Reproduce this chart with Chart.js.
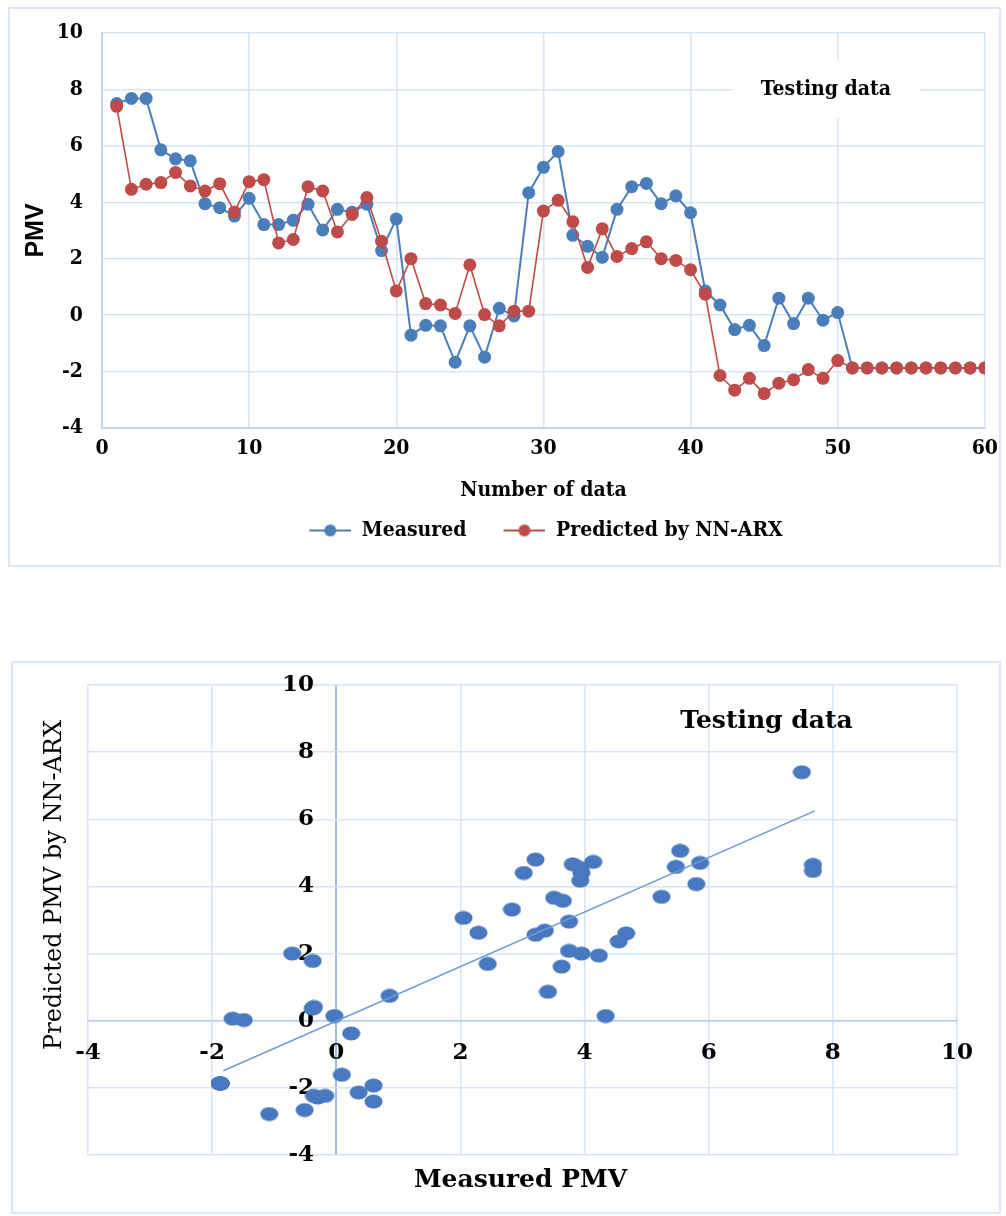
<!DOCTYPE html>
<html>
<head>
<meta charset="utf-8">
<script src="https://cdn.jsdelivr.net/npm/chart.js@4.4.1/dist/chart.umd.min.js"></script>
<style>
  body { margin: 0; background: #fff; width: 1006px; height: 1216px; position: relative; overflow: hidden; }
  .frame { position: absolute; border: 2px solid #dde6f3; box-sizing: border-box; }
  #f1 { left: 8px; top: 7px; width: 993px; height: 560px; }
  #f2 { left: 11px; top: 661px; width: 990px; height: 553px; }
  .wrap { position: absolute; left: 0; width: 1006px; }
  #w1 { top: 0; height: 570px; }
  #w2 { top: 650px; height: 566px; }
</style>
</head>
<body>
<div class="frame" id="f1"></div>
<div class="frame" id="f2"></div>
<div class="wrap" id="w1"><canvas id="lineChart" width="1006" height="570"></canvas></div>
<div class="wrap" id="w2"><canvas id="scatterChart" width="1006" height="566"></canvas></div>
<script>
// sample number 1..60
const samples = Array.from({ length: 60 }, (_, i) => i + 1);

const measured = [
  7.5, 7.68, 7.68, 5.86, 5.54, 5.47, 3.95, 3.81, 3.51, 4.14,
  3.21, 3.21, 3.36, 3.93, 3.02, 3.75, 3.65, 3.93, 2.29, 3.41,
  -0.71, -0.36, -0.38, -1.67, -0.38, -1.49, 0.24, -0.03, 4.34, 5.24,
  5.8, 2.83, 2.44, 2.05, 3.75, 4.55, 4.67, 3.95, 4.23, 3.63,
  0.86, 0.36, -0.51, -0.36, -1.08, 0.6, -0.3, 0.6, -0.18, 0.09,
  -1.87, -1.87, -1.87, -1.87, -1.87, -1.87, -1.87, -1.87, -1.87, -1.87
];

const predicted = [
  7.4, 4.46, 4.64, 4.7, 5.06, 4.58, 4.4, 4.66, 3.66, 4.73,
  4.8, 2.56, 2.68, 4.55, 4.4, 2.95, 3.57, 4.17, 2.62, 0.86,
  2.0, 0.41, 0.36, 0.06, 1.78, 0.02, -0.38, 0.14, 0.14, 3.69,
  4.07, 3.31, 1.69, 3.06, 2.08, 2.36, 2.6, 2.0, 1.94, 1.61,
  0.74, -2.14, -2.66, -2.24, -2.78, -2.41, -2.29, -1.93, -2.24, -1.61,
  -1.87, -1.87, -1.87, -1.87, -1.87, -1.87, -1.87, -1.87, -1.87, -1.87
];

// trend line end points
const trendX = [-1.82, 7.71];
const trendY = [-1.49, 6.25];

const BLUE = '#4a7ebb';
const RED = '#be4b48';
const GRID = '#d9e4f3';
const condFam = '"DejaVu Serif Condensed", "Liberation Serif", serif';
const serifB = { family: condFam, weight: 'bold', size: 21 };
const dejaB = { family: 'DejaVu Serif', weight: 'bold', size: 23 };

// legend marker: line with a dot
function legendMark(color) {
  const c = document.createElement('canvas');
  c.width = 67; c.height = 16;
  const g = c.getContext('2d');
  g.strokeStyle = color; g.lineWidth = 2;
  g.beginPath(); g.moveTo(25, 8); g.lineTo(67, 8); g.stroke();
  g.fillStyle = color;
  g.beginPath(); g.arc(46, 8, 6, 0, Math.PI * 2); g.fill();
  return c;
}

// excel-like flat ellipse marker
function ellipseMark(color) {
  const c = document.createElement('canvas');
  c.width = 19; c.height = 15;
  const g = c.getContext('2d');
  g.fillStyle = color;
  g.beginPath(); g.ellipse(9.5, 7.5, 9, 7, 0, 0, Math.PI * 2); g.fill();
  return c;
}

const marks = [legendMark(BLUE), legendMark(RED)];

const boxedLabel = {
  id: 'boxedLabel',
  afterDraw(chart, args, o) {
    const { ctx, scales } = chart;
    const x = scales.x.getPixelForValue(o.x);
    const y = scales.y.getPixelForValue(o.y);
    ctx.save();
    if (o.box) {
      ctx.fillStyle = '#fff';
      ctx.fillRect(x - o.box[0] / 2, y - o.box[1] / 2, o.box[0], o.box[1]);
    }
    ctx.fillStyle = '#000';
    ctx.font = o.font;
    ctx.textAlign = 'center';
    ctx.textBaseline = 'middle';
    ctx.fillText(o.text, x, y);
    ctx.restore();
  }
};

const legendShift = {
  id: 'legendShift',
  afterLayout(chart, args, o) {
    if (chart.legend) { chart.legend.left += o.dx; chart.legend.right += o.dx; }
  }
};

const axisTitles = {
  id: 'axisTitles',
  afterDraw(chart) {
    const { ctx, chartArea } = chart;
    ctx.save();
    ctx.fillStyle = '#000';
    ctx.textAlign = 'center';
    ctx.textBaseline = 'middle';
    ctx.font = 'bold 25px "DejaVu Serif"';
    ctx.fillText('Measured PMV', (chartArea.left + chartArea.right) / 2 - 2, chartArea.bottom + 25);
    ctx.translate(chartArea.left - 33, chartArea.top + 200);
    ctx.rotate(-Math.PI / 2);
    ctx.font = '24px "DejaVu Serif"';
    ctx.fillText('Predicted PMV by NN-ARX', 0, 0);
    ctx.restore();
  }
};

// TIME SERIES
new Chart(document.getElementById('lineChart'), {
  type: 'scatter',
  data: {
    datasets: [
      {
        label: 'Measured',
        data: samples.map((n, i) => ({ x: n, y: measured[i] })),
        showLine: true, borderColor: BLUE, backgroundColor: BLUE,
        borderWidth: 2, pointRadius: 6.5, pointBorderWidth: 0, order: 1
      },
      {
        label: 'Predicted by NN-ARX',
        data: samples.map((n, i) => ({ x: n, y: predicted[i] })),
        showLine: true, borderColor: RED, backgroundColor: RED,
        borderWidth: 1.6, pointRadius: 6.5, pointBorderWidth: 0, order: 0
      }
    ]
  },
  plugins: [boxedLabel, legendShift],
  options: {
    responsive: false,
    animation: false,
    layout: { padding: { top: 33, right: 19, bottom: 19, left: 0 } },
    plugins: {
      tooltip: { enabled: false },
      legend: {
        position: 'bottom',
        labels: {
          usePointStyle: true, pointStyleWidth: 67, padding: 12, color: '#000', font: serifB,
          sort: (a, b) => a.datasetIndex - b.datasetIndex,
          generateLabels: chart => Chart.defaults.plugins.legend.labels.generateLabels(chart)
            .map(l => ({ ...l, pointStyle: marks[l.datasetIndex] }))
        }
      },
      legendShift: { dx: 40 },
      boxedLabel: { text: 'Testing data', x: 49.2, y: 8.0, box: [187, 58], font: 'bold 21px ' + condFam }
    },
    scales: {
      x: {
        type: 'linear', min: 0, max: 60,
        ticks: { stepSize: 10, padding: 8, color: '#000', font: serifB },
        grid: { color: GRID, lineWidth: 1.5, drawTicks: false },
        border: { color: '#c3d5ee', width: 2 },
        title: { display: true, text: 'Number of data', color: '#000', font: serifB, padding: { top: 0, bottom: 5 } },
        afterFit: s => { s.height = 80; }
      },
      y: {
        min: -4, max: 10,
        ticks: { stepSize: 2, padding: 19, color: '#000', font: serifB },
        grid: { color: GRID, lineWidth: 1.5, drawTicks: false },
        border: { color: '#c3d5ee', width: 2 },
        title: { display: true, text: 'PMV', color: '#000', font: { family: 'Liberation Sans', weight: 'bold', size: 25 }, padding: { top: 21 } },
        afterFit: s => { s.width = 102; }
      }
    }
  }
});

// SCATTER
new Chart(document.getElementById('scatterChart'), {
  type: 'scatter',
  data: {
    datasets: [
      {
        label: 'Trend',
        data: trendX.map((x, i) => ({ x, y: trendY[i] })),
        showLine: true, borderColor: '#7099d2', borderWidth: 1.5, pointRadius: 0
      },
      {
        label: 'Testing data',
        data: measured.map((m, i) => ({ x: m, y: predicted[i] })),
        pointStyle: ellipseMark('#4878bf'), pointRadius: 8
      }
    ]
  },
  plugins: [boxedLabel, axisTitles],
  options: {
    responsive: false,
    animation: false,
    layout: { padding: { top: 35, right: 49, bottom: 61, left: 88 } },
    plugins: {
      legend: { display: false },
      tooltip: { enabled: false },
      boxedLabel: { text: 'Testing data', x: 6.93, y: 8.9, font: 'bold 25px "DejaVu Serif"' }
    },
    scales: {
      x: {
        type: 'linear', min: -4, max: 10, position: { y: 0 },
        ticks: { stepSize: 2, padding: 19, color: '#000', font: dejaB },
        grid: {
          color: c => c.tick && c.tick.value === 0 ? '#9dbbe6' : GRID,
          lineWidth: c => c.tick && c.tick.value === 0 ? 2 : 1.5,
          drawTicks: false
        },
        border: { color: '#b3cbec', width: 1.5 }
      },
      y: {
        // labels sit a little left of the x = 0 axis line
        min: -4, max: 10, position: { x: -0.36 },
        ticks: { stepSize: 2, color: '#000', font: dejaB },
        grid: { color: GRID, lineWidth: 1.5, drawTicks: false },
        border: { display: false }
      }
    }
  }
});
</script>
</body>
</html>
